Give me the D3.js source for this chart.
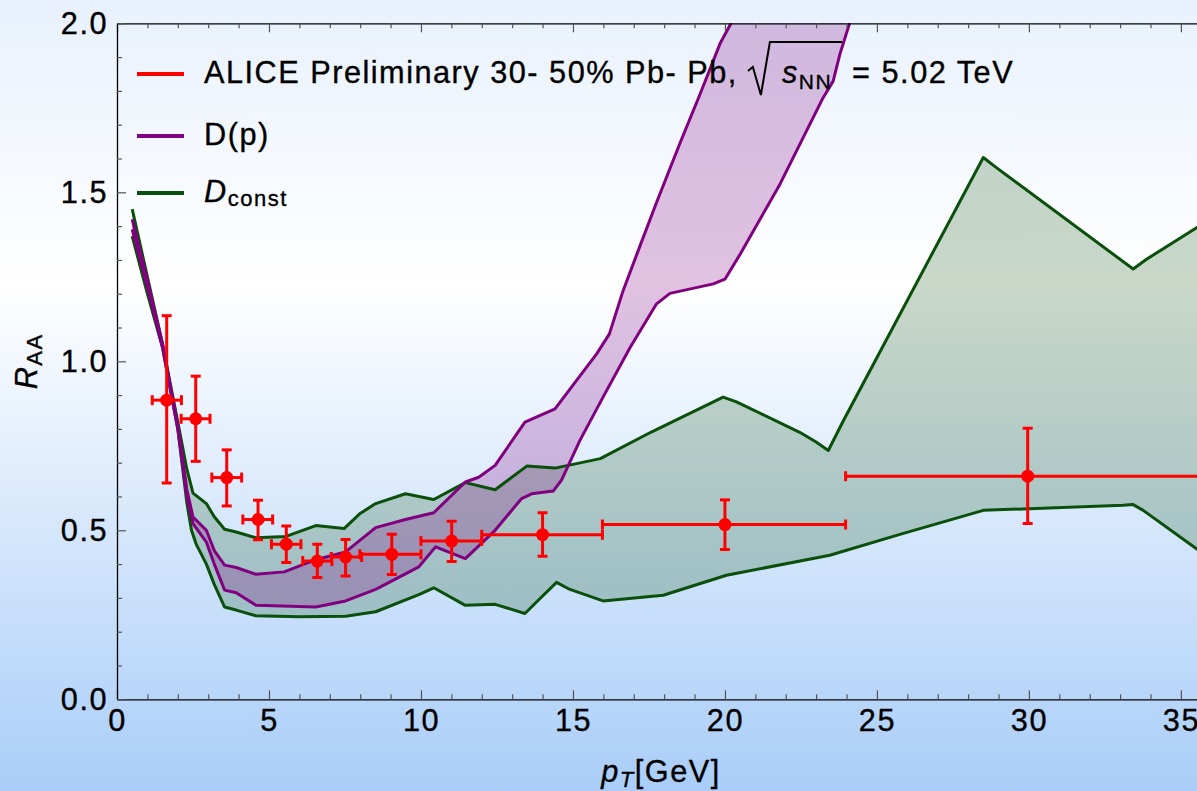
<!DOCTYPE html>
<html>
<head>
<meta charset="utf-8">
<script src="https://cdn.jsdelivr.net/npm/d3@7"></script>
<style>
  html, body { margin: 0; padding: 0; }
  body { width: 1197px; height: 791px; overflow: hidden; }
  svg { display: block; font-family: "Liberation Sans", Arial, Helvetica, sans-serif; }
  svg text { stroke: #000; stroke-width: 0.35px; }
</style>
</head>
<body>
<div id="view"></div>
<script>
// ---- data ----
const xTicks = [0, 5, 10, 15, 20, 25, 30, 35];
const yTicks = [0.0, 0.5, 1.0, 1.5, 2.0];

// ALICE preliminary points
const aliceX   = [1.635, 2.59, 3.61, 4.64, 5.57, 6.59, 7.52, 9.04, 11.01, 14.0, 20.0, 29.96];
const aliceY   = [0.885, 0.83, 0.656, 0.532, 0.459, 0.409, 0.421, 0.429, 0.468, 0.487, 0.517, 0.66];
const aliceXlo = [1.16, 2.11, 3.12, 4.14, 5.08, 6.11, 7.05, 7.99, 10.0, 12.0, 15.97, 23.97];
const aliceXhi = [2.12, 3.06, 4.10, 5.12, 6.05, 7.07, 8.05, 10.0, 12.0, 15.97, 23.97, 36.0];
const aliceYlo = [0.64, 0.704, 0.572, 0.472, 0.405, 0.36, 0.365, 0.369, 0.408, 0.423, 0.443, 0.52];
const aliceYhi = [1.135, 0.956, 0.738, 0.589, 0.513, 0.459, 0.473, 0.488, 0.527, 0.552, 0.59, 0.802];

// D(p) band
const dpUpper = [
  [0.5,1.42],[1.0,1.24],[1.5,1.05],[2.0,0.81],[2.3,0.62],[2.5,0.539],[2.94,0.50],[3.2,0.44],
  [3.54,0.397],[3.92,0.39],[4.57,0.37],[5.5,0.377],[6.54,0.413],[7.52,0.436],[8.51,0.508],
  [9.49,0.532],[10.42,0.552],[11.46,0.643],[11.9,0.657],[12.44,0.692],[13.42,0.82],[14.41,0.859],
  [15.78,1.022],[16.2,1.081],[16.65,1.209],[17.2,1.34],[17.75,1.47],[18.52,1.645],[19.18,1.79],
  [19.84,1.94],[20.38,2.03],[20.7,2.1]
];
const dpLower = [
  [0.5,1.39],[1.0,1.22],[1.5,1.04],[2.0,0.80],[2.3,0.60],[2.5,0.52],[2.94,0.465],[3.2,0.40],
  [3.54,0.323],[3.92,0.315],[4.57,0.278],[6.54,0.273],[7.52,0.291],[8.51,0.325],[9.93,0.392],
  [10.48,0.451],[11.46,0.416],[12.44,0.50],[13.31,0.594],[13.64,0.608],[14.35,0.616],[14.62,0.648],
  [15.23,0.766],[15.99,0.894],[16.88,1.041],[17.75,1.17],[18.19,1.201],[19.62,1.229],[20.0,1.243],
  [20.5,1.317],[21.81,1.524],[23.23,1.78],[23.56,1.829],[23.78,1.908],[24.1,2.0],[24.2,2.05]
];

// D_const band
const dcUpper = [
  [0.5,1.45],[1.0,1.25],[1.5,1.05],[2.0,0.82],[2.3,0.68],[2.5,0.61],[2.94,0.579],[3.2,0.54],
  [3.54,0.503],[3.92,0.495],[4.57,0.478],[5.56,0.482],[6.54,0.514],[7.47,0.505],[8.0,0.55],
  [8.51,0.579],[9.49,0.608],[10.42,0.591],[11.46,0.641],[12.44,0.62],[13.48,0.69],[14.41,0.684],
  [15.9,0.712],[17.56,0.79],[19.94,0.894],[20.38,0.88],[22.46,0.79],[23.0,0.761],[23.4,0.736],
  [23.9,0.825],[28.5,1.603],[28.93,1.573],[33.43,1.273],[33.87,1.302],[35.6,1.40]
];
const dcLower = [
  [0.5,1.37],[1.0,1.20],[1.5,1.04],[2.0,0.80],[2.3,0.58],[2.45,0.50],[2.6,0.46],[2.94,0.40],
  [3.2,0.34],[3.54,0.273],[3.92,0.264],[4.57,0.247],[6.0,0.244],[7.52,0.246],[8.51,0.259],
  [9.93,0.31],[10.42,0.33],[11.46,0.278],[12.44,0.281],[13.42,0.254],[13.86,0.293],[14.46,0.346],
  [14.9,0.325],[15.99,0.291],[17.97,0.308],[20.05,0.367],[23.45,0.426],[25.76,0.488],[28.5,0.559],
  [33.1,0.574],[33.43,0.576],[33.76,0.559],[35.6,0.44]
];

(function () {
  const W = 1197, H = 791;
  const L = 117, R = 1197, T = 23.3, B = 699.3;
  const RED = "#ff0000", PURPLE = "#800080", GREEN = "#0a4f0a";

  const svg = d3.select("#view").append("svg")
    .attr("width", W).attr("height", H);

  // background gradient
  const defs = svg.append("defs");
  const grad = defs.append("linearGradient")
    .attr("id", "bg").attr("x1", 0).attr("y1", 0).attr("x2", 0).attr("y2", 1);
  grad.append("stop").attr("offset", "0%").attr("stop-color", "#e8f1fc");
  grad.append("stop").attr("offset", "36%").attr("stop-color", "#ffffff");
  grad.append("stop").attr("offset", "100%").attr("stop-color", "#a9cdf8");
  svg.append("rect").attr("width", W).attr("height", H).attr("fill", "url(#bg)");

  defs.append("clipPath").attr("id", "plotclip")
    .append("rect").attr("x", L).attr("y", T).attr("width", R - L).attr("height", B - T);

  const x = d3.scaleLinear().domain([0, 35.53]).range([L, R]);
  const y = d3.scaleLinear().domain([0, 2]).range([B, T]);

  const line = d3.line().x(d => x(d[0])).y(d => y(d[1]));
  const band = (up, lo) => line(up.concat(lo.slice().reverse())) + "Z";

  const plot = svg.append("g").attr("clip-path", "url(#plotclip)");

  // bands
  plot.append("path").attr("d", band(dcUpper, dcLower))
    .attr("fill", GREEN).attr("fill-opacity", 0.22);
  plot.append("path").attr("d", band(dpUpper, dpLower))
    .attr("fill", PURPLE).attr("fill-opacity", 0.24);

  [dcUpper, dcLower].forEach(arr => {
    plot.append("path").attr("d", line(arr))
      .attr("fill", "none").attr("stroke", GREEN).attr("stroke-width", 3)
      .attr("stroke-linejoin", "round");
  });
  [dpUpper, dpLower].forEach(arr => {
    plot.append("path").attr("d", line(arr))
      .attr("fill", "none").attr("stroke", PURPLE).attr("stroke-width", 3)
      .attr("stroke-linejoin", "round");
  });

  // data points with error bars
  const pts = aliceX.map((v, i) => ({
    x: v, y: aliceY[i], xlo: aliceXlo[i], xhi: aliceXhi[i], ylo: aliceYlo[i], yhi: aliceYhi[i]
  }));
  const eg = plot.append("g").attr("stroke", RED).attr("stroke-width", 3);
  const cap = 5;
  pts.forEach(p => {
    eg.append("line").attr("x1", x(p.xlo)).attr("x2", x(p.xhi)).attr("y1", y(p.y)).attr("y2", y(p.y));
    eg.append("line").attr("x1", x(p.x)).attr("x2", x(p.x)).attr("y1", y(p.ylo)).attr("y2", y(p.yhi));
    [p.xlo, p.xhi].forEach(v =>
      eg.append("line").attr("x1", x(v)).attr("x2", x(v)).attr("y1", y(p.y) - cap).attr("y2", y(p.y) + cap));
    [p.ylo, p.yhi].forEach(v =>
      eg.append("line").attr("x1", x(p.x) - cap).attr("x2", x(p.x) + cap).attr("y1", y(v)).attr("y2", y(v)));
  });
  plot.selectAll("circle.pt").data(pts).join("circle")
    .attr("class", "pt")
    .attr("cx", d => x(d.x)).attr("cy", d => y(d.y)).attr("r", 6.5)
    .attr("fill", RED);

  // axes
  const fs = 30.7, ls = "1.5px";
  const minorX = d3.range(0, 36, 1).filter(v => v % 5 !== 0);
  const minorY = d3.range(0, 21, 1).map(v => v / 10).filter(v => Math.round(v * 10) % 5 !== 0);

  const styleAxis = g => {
    g.select(".domain").attr("stroke", "#000").attr("stroke-width", 1.3);
    g.selectAll(".tick line").attr("stroke", "#555").attr("stroke-width", 1.2);
    g.selectAll(".tick text").attr("fill", "#000")
      .style("font-size", fs + "px").style("letter-spacing", ls);
  };

  // bottom
  svg.append("g").attr("transform", `translate(0,${B})`)
    .call(d3.axisBottom(x).tickValues(minorX).tickSize(-5).tickSizeOuter(0).tickFormat(""))
    .call(styleAxis);
  svg.append("g").attr("transform", `translate(0,${B})`)
    .call(d3.axisBottom(x).tickValues(xTicks).tickSize(-9).tickSizeOuter(0).tickPadding(10)
      .tickFormat(d3.format("d")))
    .call(styleAxis)
    .call(g => g.select(".domain").remove());

  // top
  svg.append("g").attr("transform", `translate(0,${T})`)
    .call(d3.axisTop(x).tickValues(minorX).tickSize(-5).tickSizeOuter(0).tickFormat(""))
    .call(styleAxis);
  svg.append("g").attr("transform", `translate(0,${T})`)
    .call(d3.axisTop(x).tickValues(xTicks).tickSize(-9).tickSizeOuter(0).tickFormat(""))
    .call(styleAxis)
    .call(g => g.select(".domain").remove());

  // left
  svg.append("g").attr("transform", `translate(${L},0)`)
    .call(d3.axisLeft(y).tickValues(minorY).tickSize(-5).tickSizeOuter(0).tickFormat(""))
    .call(styleAxis);
  svg.append("g").attr("transform", `translate(${L},0)`)
    .call(d3.axisLeft(y).tickValues(yTicks).tickSize(-9).tickSizeOuter(0).tickPadding(9)
      .tickFormat(d3.format(".1f")))
    .call(styleAxis)
    .call(g => g.select(".domain").remove());

  // axis titles
  const xt = svg.append("text")
    .attr("x", (L + R) / 2 + 4).attr("y", 782)
    .attr("text-anchor", "middle")
    .style("font-size", fs + "px").style("letter-spacing", ls);
  xt.append("tspan").style("font-style", "italic").text("p");
  xt.append("tspan").style("font-style", "italic").style("font-size", "22px").attr("dy", 5).text("T");
  xt.append("tspan").attr("dy", -5).text("[GeV]");

  const yt = svg.append("text")
    .attr("transform", `translate(37,${(T + B) / 2}) rotate(-90)`)
    .attr("text-anchor", "middle")
    .style("font-size", fs + "px").style("letter-spacing", ls);
  yt.append("tspan").style("font-style", "italic").text("R");
  yt.append("tspan").style("font-size", "22px").attr("dy", 5).text("AA");

  // legend
  const leg = svg.append("g");
  const rows = [
    { c: RED, y: 74 },
    { c: PURPLE, y: 136 },
    { c: GREEN, y: 193 }
  ];
  rows.forEach(r => {
    leg.append("line").attr("x1", 137).attr("x2", 184).attr("y1", r.y).attr("y2", r.y)
      .attr("stroke", r.c).attr("stroke-width", 4);
  });

  const t1 = leg.append("text").attr("x", 204).attr("y", 83)
    .style("font-size", fs + "px").style("letter-spacing", ls);
  const part1 = "ALICE Preliminary 30- 50% Pb- Pb,";
  t1.append("tspan").text(part1);
  t1.append("tspan").attr("dx", 44).style("font-style", "italic").text("s");
  t1.append("tspan").attr("dy", 6).style("font-size", "21px").text("NN");
  t1.append("tspan").attr("dy", -6).attr("dx", 10).text(" = 5.02 TeV");

  const n1 = t1.node();
  const sIdx = part1.length;
  const commaEnd = n1.getEndPositionOfChar(sIdx - 1).x;
  const sx = n1.getStartPositionOfChar(sIdx).x;
  const nnEnd = n1.getEndPositionOfChar(sIdx + 2).x;
  const r0 = Math.max(commaEnd + 10, sx - 37);
  leg.append("path")
    .attr("d", `M${r0},71 L${r0 + 5},67 L${r0 + 13},95 L${sx - 12},42 L${nnEnd + 10},42`)
    .attr("fill", "none").attr("stroke", "#000").attr("stroke-width", 2)
    .attr("stroke-linejoin", "miter");

  leg.append("text").attr("x", 204).attr("y", 145)
    .style("font-size", fs + "px").style("letter-spacing", ls)
    .text("D(p)");

  const t3 = leg.append("text").attr("x", 204).attr("y", 202)
    .style("font-size", fs + "px").style("letter-spacing", ls);
  t3.append("tspan").style("font-style", "italic").text("D");
  t3.append("tspan").attr("dy", 4).style("font-size", "22px").text("const");
})();
</script>
</body>
</html>
